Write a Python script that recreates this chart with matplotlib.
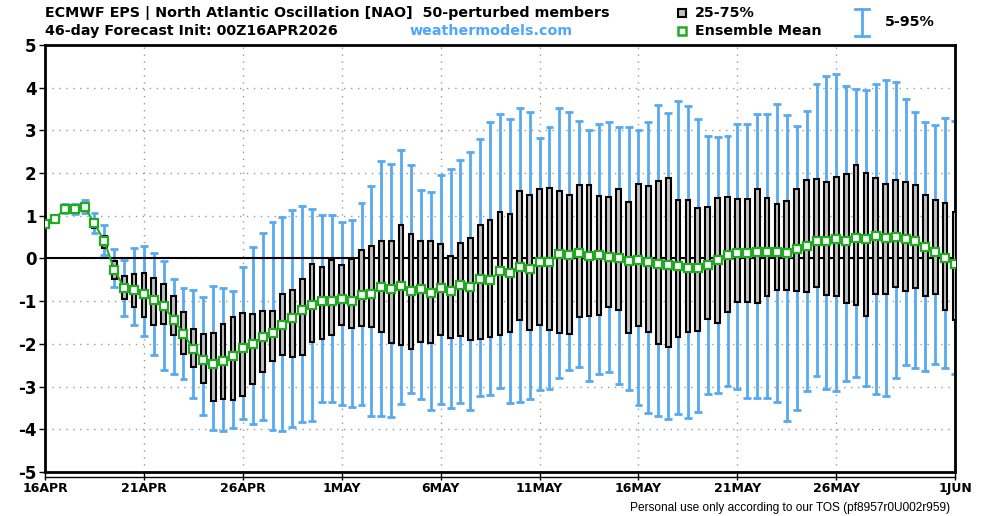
import matplotlib
matplotlib.use("Agg")
import matplotlib.pyplot as plt
import numpy as np

# 12-hourly steps from 00Z16APR2026, value in days since init
steps = np.arange(93) * 0.5

p95 = [0.85, 0.98, 1.27, 1.28, 1.38, 1.07, 0.78, 0.23, -0.04, 0.25,
       0.30, 0.13, -0.06, -0.49, -0.70, -0.73, -0.91, -0.65, -0.69, -0.75,
       -0.20, 0.27, 0.60, 0.86, 0.98, 1.14, 1.23, 1.17, 1.02, 1.02,
       0.85, 0.90, 1.29, 1.70, 2.29, 2.21, 2.54, 2.18, 1.60, 1.55,
       1.95, 2.09, 2.30, 2.49, 2.80, 3.20, 3.38, 3.26, 3.52, 3.44,
       2.82, 3.09, 3.53, 3.44, 3.23, 3.01, 3.14, 3.19, 3.09, 3.07,
       3.01, 3.19, 3.60, 3.41, 3.69, 3.58, 3.26, 2.88, 2.84, 2.88,
       3.15, 3.15, 3.38, 3.38, 3.61, 3.35, 3.10, 3.45, 4.08, 4.28,
       4.33, 4.03, 3.96, 3.95, 4.08, 4.18, 4.14, 3.73, 3.43, 3.19,
       3.13, 3.28, 3.22]
p75 = [0.83, 0.96, 1.20, 1.20, 1.26, 0.88, 0.52, -0.06, -0.41, -0.37,
       -0.35, -0.46, -0.60, -0.87, -1.26, -1.66, -1.78, -1.75, -1.54, -1.37,
       -1.27, -1.31, -1.24, -1.22, -0.84, -0.74, -0.49, -0.12, -0.19, -0.03,
       -0.16, -0.02, 0.20, 0.29, 0.41, 0.41, 0.79, 0.57, 0.41, 0.41,
       0.33, 0.05, 0.36, 0.49, 0.79, 0.91, 1.09, 1.04, 1.57, 1.48,
       1.62, 1.65, 1.59, 1.48, 1.73, 1.73, 1.46, 1.45, 1.63, 1.32,
       1.75, 1.69, 1.82, 1.88, 1.37, 1.37, 1.19, 1.21, 1.41, 1.44,
       1.39, 1.39, 1.63, 1.41, 1.27, 1.35, 1.63, 1.84, 1.86, 1.78,
       1.91, 1.98, 2.20, 2.01, 1.88, 1.74, 1.83, 1.79, 1.71, 1.48,
       1.38, 1.30, 1.10]
ens_mean = [0.80, 0.93, 1.16, 1.15, 1.21, 0.82, 0.40, -0.26, -0.69, -0.73,
            -0.83, -0.98, -1.12, -1.43, -1.76, -2.13, -2.38, -2.46, -2.39, -2.28,
            -2.10, -2.00, -1.84, -1.75, -1.55, -1.40, -1.20, -1.10, -0.99, -0.99,
            -0.96, -0.99, -0.86, -0.82, -0.67, -0.71, -0.65, -0.76, -0.72, -0.81,
            -0.70, -0.77, -0.62, -0.66, -0.49, -0.50, -0.30, -0.33, -0.20, -0.25,
            -0.09, -0.08, 0.10, 0.09, 0.13, 0.05, 0.08, 0.04, 0.02, -0.06,
            -0.04, -0.09, -0.13, -0.16, -0.18, -0.23, -0.22, -0.16, -0.04, 0.08,
            0.13, 0.13, 0.15, 0.15, 0.15, 0.13, 0.23, 0.29, 0.42, 0.42,
            0.45, 0.41, 0.48, 0.46, 0.52, 0.47, 0.50, 0.45, 0.41, 0.28,
            0.16, 0.00, -0.12]
p25 = [0.77, 0.90, 1.12, 1.10, 1.15, 0.72, 0.25, -0.47, -0.95, -1.13,
       -1.37, -1.55, -1.54, -1.80, -2.23, -2.55, -2.91, -3.33, -3.30, -3.32,
       -3.21, -2.94, -2.66, -2.40, -2.27, -2.30, -2.26, -1.95, -1.88, -1.80,
       -1.55, -1.63, -1.58, -1.61, -1.71, -1.98, -2.02, -2.12, -1.95, -1.99,
       -1.80, -1.87, -1.81, -1.90, -1.88, -1.84, -1.80, -1.73, -1.45, -1.67,
       -1.56, -1.68, -1.74, -1.77, -1.38, -1.35, -1.32, -1.13, -1.20, -1.74,
       -1.57, -1.73, -2.01, -2.07, -1.85, -1.71, -1.70, -1.42, -1.52, -1.25,
       -1.02, -1.03, -1.05, -0.88, -0.74, -0.74, -0.76, -0.79, -0.66, -0.86,
       -0.88, -1.05, -1.08, -1.34, -0.82, -0.84, -0.67, -0.75, -0.69, -0.87,
       -0.82, -1.20, -1.43]
p05 = [0.74, 0.88, 1.07, 1.05, 1.07, 0.60, 0.09, -0.67, -1.34, -1.56,
       -1.82, -2.25, -2.62, -2.71, -2.82, -3.26, -3.67, -4.02, -4.03, -3.98,
       -3.76, -3.87, -3.79, -4.02, -4.05, -3.95, -3.82, -3.80, -3.36, -3.36,
       -3.42, -3.48, -3.42, -3.70, -3.70, -3.71, -3.40, -3.16, -3.28, -3.55,
       -3.41, -3.50, -3.38, -3.55, -3.23, -3.20, -3.03, -3.39, -3.36, -3.30,
       -3.07, -3.05, -2.80, -2.62, -2.53, -2.87, -2.71, -2.65, -2.93, -3.09,
       -3.43, -3.62, -3.70, -3.76, -3.64, -3.74, -3.60, -3.17, -3.15, -2.98,
       -3.06, -3.26, -3.26, -3.27, -3.36, -3.80, -3.55, -3.11, -2.76, -3.05,
       -3.11, -2.88, -2.78, -2.98, -3.18, -3.23, -2.80, -2.50, -2.57, -2.63,
       -2.48, -2.57, -2.70]

date_ticks = [0, 5, 10, 15, 20, 25, 30, 35, 40, 46]
date_labels = ["16APR", "21APR", "26APR", "1MAY", "6MAY", "11MAY",
               "16MAY", "21MAY", "26MAY", "1JUN"]

blue = "#58aaf0"
green = "#22aa22"
plt.rcParams["font.family"] = ["DejaVu Sans"]

fig = plt.figure(figsize=(10, 5.16), dpi=100)
ax = fig.add_axes([0.045, 0.0853, 0.91, 0.8275])

p05 = np.array(p05); p25 = np.array(p25); p75 = np.array(p75); p95 = np.array(p95)

# 5-95% whiskers
ax.vlines(steps, p05, p95, color=blue, lw=2, zorder=2)
ax.hlines(p95, steps - 0.2, steps + 0.2, color=blue, lw=2, zorder=2)
ax.hlines(p05, steps - 0.2, steps + 0.2, color=blue, lw=2, zorder=2)

# 25-75% boxes
ax.bar(steps, p75 - p25, bottom=p25, width=0.24, color="#c0c0c0",
       edgecolor="black", linewidth=1.5, zorder=3)

ax.axhline(0, color="black", lw=1.5, zorder=2.5)

ax.plot(steps, ens_mean, color=green, lw=1.5, marker="s", ms=5.5,
        mfc="white", mec=green, mew=1.6, zorder=4)

ax.set_xlim(0, 46)
ax.set_ylim(-5, 5)
ax.set_yticks(range(-5, 6))
ax.set_yticklabels([str(v) for v in range(-5, 6)], fontsize=12, fontweight="bold")
ax.set_xticks(date_ticks)
ax.set_xticklabels(date_labels, fontsize=9, fontweight="bold")
ax.tick_params(axis="y", length=4, width=1, pad=2)
ax.tick_params(axis="x", length=6, width=1, pad=1)
for v in range(-4, 5):
    ax.axhline(v, color="#999999", lw=1, ls=(0, (1, 4)), zorder=1)
for d in date_ticks[1:-1]:
    ax.axvline(d, color="#999999", lw=1, ls=(0, (1, 4)), zorder=1)
for s in ax.spines.values():
    s.set_linewidth(2)
# thin second baseline under the frame
fig.lines.append(plt.Line2D([0.045, 0.955], [0.0756, 0.0756], transform=fig.transFigure,
                            color="black", lw=1))

# header
fig.text(0.045, 0.975, "ECMWF EPS | North Atlantic Oscillation [NAO]  50-perturbed members",
         fontsize=10.3, fontweight="bold", va="center", ha="left")
fig.text(0.045, 0.94, "46-day Forecast Init: 00Z16APR2026",
         fontsize=10.3, fontweight="bold", va="center", ha="left")
fig.text(0.41, 0.94, "weathermodels.com", fontsize=10.3, fontweight="bold",
         color="#4da6ff", va="center", ha="left")

# legend
fig.patches.append(plt.Rectangle((0.678, 0.967), 0.008, 0.016, transform=fig.transFigure,
                                 facecolor="#c0c0c0", edgecolor="black", lw=1.5))
fig.text(0.695, 0.975, "25-75%", fontsize=10.3, fontweight="bold", va="center")
fig.patches.append(plt.Rectangle((0.678, 0.932), 0.008, 0.016, transform=fig.transFigure,
                                 facecolor="white", edgecolor=green, lw=1.8))
fig.text(0.695, 0.94, "Ensemble Mean", fontsize=10.3, fontweight="bold", va="center")
fig.lines.append(plt.Line2D([0.862, 0.862], [0.93, 0.982], transform=fig.transFigure,
                            color=blue, lw=2))
fig.lines.append(plt.Line2D([0.855, 0.869], [0.982, 0.982], transform=fig.transFigure,
                            color=blue, lw=2))
fig.lines.append(plt.Line2D([0.855, 0.869], [0.93, 0.93], transform=fig.transFigure,
                            color=blue, lw=2))
fig.text(0.885, 0.957, "5-95%", fontsize=10.3, fontweight="bold", va="center")

fig.text(0.95, 0.015, "Personal use only according to our TOS (pf8957r0U002r959)",
         fontsize=8.6, ha="right", va="center", family=["Liberation Sans", "DejaVu Sans"])

fig.savefig("out.png", dpi=100)
